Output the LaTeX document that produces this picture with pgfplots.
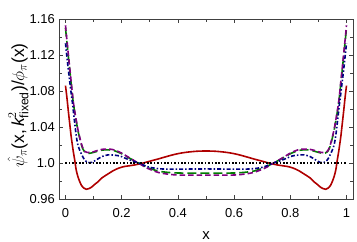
\documentclass[border=0pt]{standalone}
\usepackage{amsmath}
\usepackage{fontspec}
\setmainfont{Liberation Sans}
\usepackage{pgfplots}
\pgfplotsset{compat=1.18}
\definecolor{cred}{RGB}{175,0,0}
\definecolor{cgreen}{RGB}{0,125,0}
\definecolor{cblue}{RGB}{0,0,130}
\definecolor{cpurple}{RGB}{128,0,128}
\begin{document}
\begin{tikzpicture}
\begin{axis}[
  scale only axis, width=294bp, height=180bp,
  xmin=-0.0231, xmax=1.0231, ymin=0.96, ymax=1.16,
  xtick={0,0.2,0.4,0.6,0.8,1}, xticklabels={0,0.2,0.4,0.6,0.8,1},
  minor xtick={0.1,0.3,0.5,0.7,0.9},
  ytick={0.96,1.0,1.04,1.08,1.12,1.16}, yticklabels={0.96,1.0,1.04,1.08,1.12,1.16},
  minor ytick={0.98,1.02,1.06,1.10,1.14},
  tick align=inside,
  major tick length=4bp, minor tick length=3bp,
  axis line style={draw=black!75, line width=0.8bp},
  every tick/.style={black!75, line width=0.6bp},
  tick label style={font=\fontsize{13}{15}\selectfont, inner sep=0pt},
  xticklabel style={anchor=north, yshift=-9bp},
  yticklabel style={anchor=east, xshift=-4bp},
  xlabel={x},
  ylabel={$\hat{\psi}_{\pi}$(x,$\,\textit{k}^{2}_{\text{fixed}}$)/$\phi_{\pi}$(x)},
  xlabel style={font=\fontsize{15}{17}\selectfont, at={(axis description cs:0.5,-0.2056)}, anchor=center},
  ylabel style={font=\fontsize{17.5}{20}\selectfont, at={(axis description cs:-0.1395,0.52)}, anchor=center},
  clip=false,
]
% red solid
\addplot[cred, line width=1.6bp, smooth, tension=0.5] coordinates {
(0,1.086)(0.005,1.073)(0.01,1.058)(0.015,1.044)(0.02,1.030)(0.027,1.0144)(0.033,1.003)(0.038,0.9925)
(0.045,0.984)(0.056,0.9756)(0.065,0.9722)(0.074,0.9708)(0.083,0.9715)(0.092,0.973)(0.105,0.9765)
(0.116,0.9792)(0.13,0.9835)(0.151,0.9878)(0.17,0.9915)(0.187,0.994)(0.205,0.9958)(0.222,0.9967)
(0.245,0.9978)(0.271,0.9995)(0.3,1.002)(0.33,1.0045)(0.36,1.0072)(0.39,1.0097)(0.42,1.0115)
(0.45,1.0126)(0.475,1.0132)(0.5,1.0133)
(0.525,1.0132)(0.55,1.0126)(0.58,1.0115)(0.61,1.0097)(0.64,1.0072)(0.67,1.0045)(0.7,1.002)
(0.729,0.9995)(0.755,0.9978)(0.778,0.9967)(0.795,0.9958)(0.813,0.994)(0.83,0.9915)(0.849,0.9878)
(0.87,0.9835)(0.884,0.9792)(0.895,0.9765)(0.908,0.973)(0.917,0.9715)(0.926,0.9708)(0.935,0.9722)
(0.944,0.9756)(0.955,0.984)(0.962,0.9925)(0.967,1.003)(0.973,1.0144)(0.98,1.030)(0.985,1.044)
(0.99,1.058)(0.995,1.073)(1,1.086)
};
% green long dashed
\addplot[cgreen, line width=1.6bp, dash pattern=on 9bp off 4bp, smooth, tension=0.5] coordinates {
(0,1.150)(0.01,1.119)(0.02,1.089)(0.027,1.069)(0.033,1.056)(0.038,1.047)(0.045,1.035)(0.056,1.021)
(0.062,1.0155)(0.068,1.0125)(0.076,1.011)(0.086,1.0108)(0.1,1.0118)(0.12,1.0136)(0.139,1.0146)
(0.155,1.0146)(0.175,1.0135)(0.2,1.0103)(0.222,1.0064)(0.245,1.0024)(0.265,0.9992)(0.283,0.9962)
(0.3,0.994)(0.33,0.991)(0.36,0.9897)(0.39,0.989)(0.42,0.9888)(0.45,0.9887)(0.5,0.9888)
(0.55,0.9887)(0.58,0.9888)(0.61,0.989)(0.64,0.9897)(0.67,0.991)(0.7,0.994)(0.717,0.9962)
(0.735,0.9992)(0.755,1.0024)(0.778,1.0064)(0.8,1.0103)(0.825,1.0135)(0.845,1.0146)(0.861,1.0146)
(0.88,1.0136)(0.9,1.0118)(0.914,1.0108)(0.924,1.011)(0.932,1.0125)(0.938,1.0155)(0.944,1.021)
(0.955,1.035)(0.962,1.047)(0.967,1.056)(0.973,1.069)(0.98,1.089)(0.99,1.119)(1,1.150)
};
% purple dashed
\addplot[cpurple, line width=1.6bp, dash pattern=on 5.5bp off 3bp, smooth, tension=0.5] coordinates {
(0,1.153)(0.01,1.121)(0.02,1.091)(0.027,1.070)(0.033,1.057)(0.038,1.048)(0.045,1.036)(0.056,1.022)
(0.062,1.0165)(0.068,1.013)(0.076,1.0118)(0.086,1.0116)(0.1,1.0125)(0.12,1.0145)(0.139,1.0155)
(0.155,1.0155)(0.175,1.0144)(0.2,1.011)(0.222,1.0068)(0.245,1.0025)(0.265,0.999)(0.283,0.9955)
(0.3,0.993)(0.33,0.9895)(0.36,0.9878)(0.39,0.9868)(0.42,0.9865)(0.45,0.9865)(0.5,0.9866)
(0.55,0.9865)(0.58,0.9865)(0.61,0.9868)(0.64,0.9878)(0.67,0.9895)(0.7,0.993)(0.717,0.9955)
(0.735,0.999)(0.755,1.0025)(0.778,1.0068)(0.8,1.011)(0.825,1.0144)(0.845,1.0155)(0.861,1.0155)
(0.88,1.0145)(0.9,1.0125)(0.914,1.0116)(0.924,1.0118)(0.932,1.013)(0.938,1.0165)(0.944,1.022)
(0.955,1.036)(0.962,1.048)(0.967,1.057)(0.973,1.070)(0.98,1.091)(0.99,1.121)(1,1.153)
};
% blue dash-dot
\addplot[cblue, line width=1.6bp, dash pattern=on 4bp off 2bp on 1.5bp off 2bp, smooth, tension=0.5] coordinates {
(0,1.133)(0.01,1.104)(0.02,1.078)(0.025,1.066)(0.03,1.052)(0.038,1.031)(0.045,1.019)(0.056,1.0105)
(0.065,1.005)(0.075,1.0012)(0.085,1.0003)(0.095,1.0008)(0.11,1.0035)(0.13,1.0072)(0.151,1.009)
(0.17,1.0088)(0.193,1.0078)(0.222,1.0041)(0.245,1.0015)(0.265,0.9995)(0.283,0.997)(0.3,0.9952)
(0.33,0.9937)(0.36,0.9932)(0.4,0.9932)(0.45,0.9933)(0.5,0.9934)
(0.55,0.9933)(0.6,0.9932)(0.64,0.9932)(0.67,0.9937)(0.7,0.9952)(0.717,0.997)(0.735,0.9995)
(0.755,1.0015)(0.778,1.0041)(0.807,1.0078)(0.83,1.0088)(0.849,1.009)(0.87,1.0072)(0.89,1.0035)
(0.905,1.0008)(0.915,1.0003)(0.925,1.0012)(0.935,1.005)(0.944,1.0105)(0.955,1.019)(0.962,1.031)
(0.97,1.052)(0.975,1.066)(0.98,1.078)(0.99,1.104)(1,1.133)
};
% reference line
\addplot[black, line width=1.2bp, dash pattern=on 1.6bp off 1.8bp] coordinates {(0,1)(1,1)};
\end{axis}
\pgfresetboundingbox
\path[use as bounding box] (-59bp,-43bp) rectangle (298bp,199bp);
\end{tikzpicture}
\end{document}
